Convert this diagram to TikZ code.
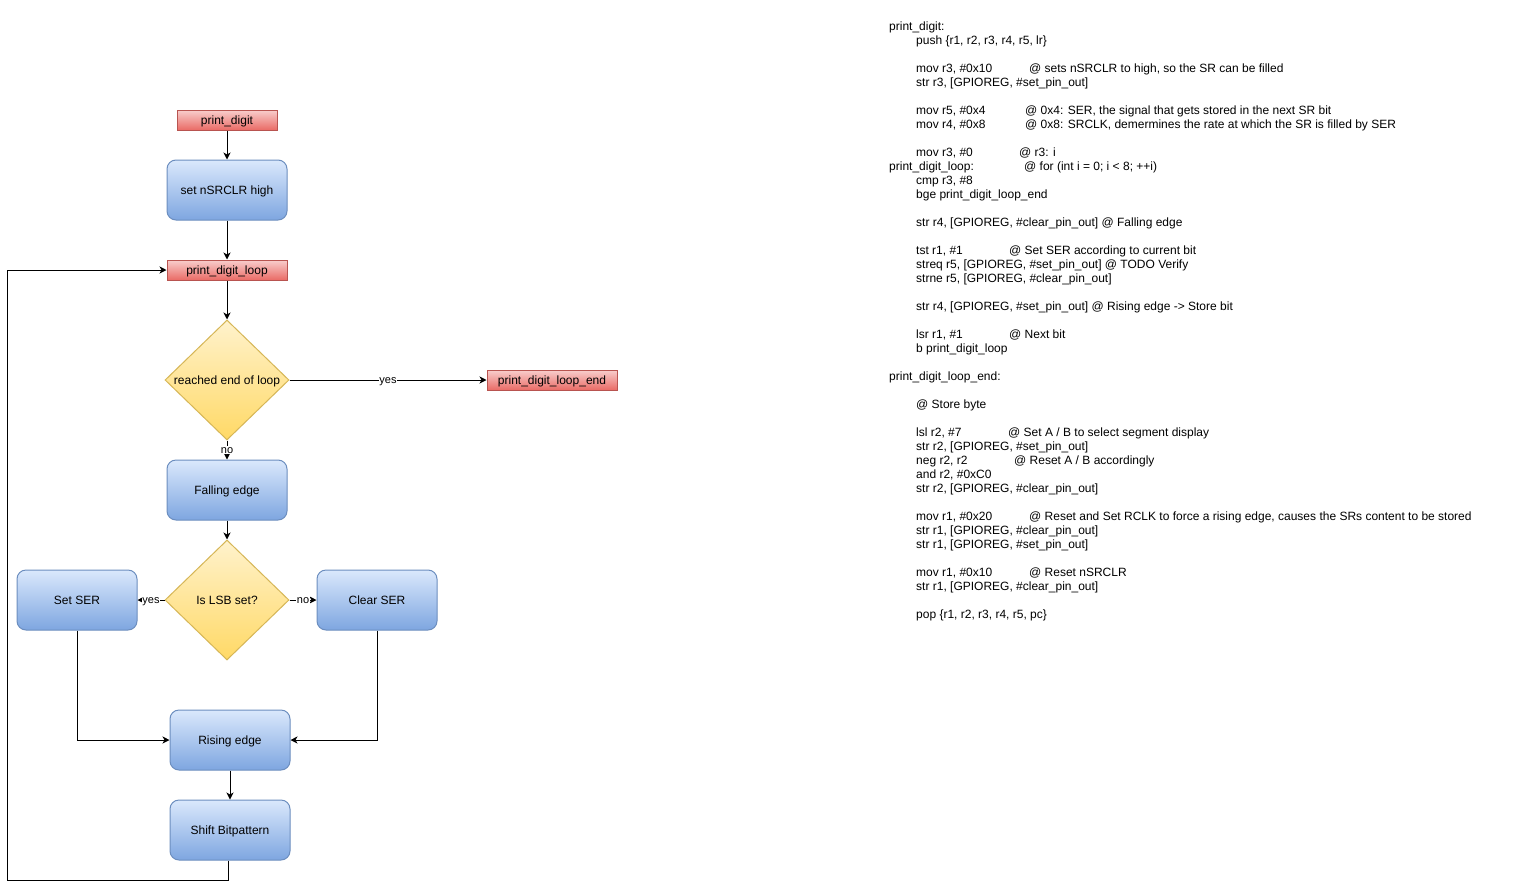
\documentclass[tikz,border=0pt]{standalone}
\usepackage{fontspec}
\setmainfont{Liberation Sans}
\usetikzlibrary{shapes.geometric,arrows.meta}

\definecolor{redTop}{HTML}{F8CECC}
\definecolor{redBot}{HTML}{EA6B66}
\definecolor{redLine}{HTML}{B85450}
\definecolor{blueTop}{HTML}{DAE8FC}
\definecolor{blueBot}{HTML}{7EA6E0}
\definecolor{blueLine}{HTML}{6C8EBF}
\definecolor{yelTop}{HTML}{FFF2CC}
\definecolor{yelBot}{HTML}{FFD966}
\definecolor{yelLine}{HTML}{D6B656}

\tikzset{
  base/.style={draw, line width=1pt, inner sep=0pt, align=center,
    text height=8.6pt, text depth=0pt,
    font=\fontsize{12}{14}\selectfont},
  labelbox/.style={base, draw=redLine, top color=redTop, bottom color=redBot,
    minimum height=20pt},
  stepbox/.style={base, draw=blueLine, top color=blueTop, bottom color=blueBot,
    rounded corners=9pt, minimum width=120pt, minimum height=60pt},
  decision/.style={base, diamond, draw=yelLine, top color=yelTop, bottom color=yelBot,
    minimum width=124pt, minimum height=120pt},
  flow/.style={line width=1pt, -{Stealth[length=7pt,width=7pt,inset=2pt]}},
  edgelabel/.style={fill=white, inner sep=0.5pt, text height=7.9pt, text depth=0pt,
    font=\fontsize{11}{13}\selectfont},
  code/.style={anchor=base west, inner sep=0pt, yshift=-4.3pt,
    font=\fontsize{12}{14}\selectfont},
}

\begin{document}
\begin{tikzpicture}[x=1pt, y=-1pt]
  \useasboundingbox (0,0) rectangle (1528,889);
  \fill[white] (0,0) rectangle (1528,889);

  % flowchart nodes
  \node[labelbox, minimum width=100pt] (start) at (227,120) {print\_digit};
  \node[stepbox] (nsrclr) at (227,190) {set nSRCLR high};
  \node[labelbox, minimum width=120pt] (loop) at (227,270) {print\_digit\_loop};
  \node[decision] (endq) at (227,380) {\makebox[0pt]{reached end of loop}};
  \node[labelbox, minimum width=130pt] (loopend) at (552,380) {print\_digit\_loop\_end};
  \node[stepbox] (fall) at (227,490) {Falling edge};
  \node[decision] (lsbq) at (227,600) {\makebox[0pt]{Is LSB set?}};
  \node[stepbox] (setser) at (77,600) {Set SER};
  \node[stepbox] (clrser) at (377,600) {Clear SER};
  \node[stepbox] (rise) at (230,740) {Rising edge};
  \node[stepbox] (shift) at (230,830) {Shift Bitpattern};
  \coordinate (backcorner) at (7,880);

  % connectors
  \draw[flow] (start) -- (nsrclr);
  \draw[flow] (nsrclr) -- (loop);
  \draw[flow] (loop) -- (endq);
  \draw[flow] (endq.east) -- node[edgelabel] {yes} (loopend.west);
  \draw[flow] (endq.south) -- node[edgelabel] {no} (fall.north);
  \draw[flow] (fall) -- (lsbq);
  \draw[flow] (lsbq.west) -- node[edgelabel] {yes} (setser.east);
  \draw[flow] (lsbq.east) -- node[edgelabel] {no} (clrser.west);
  \draw[flow] (setser.south) |- (rise.west);
  \draw[flow] (clrser.south) |- (rise.east);
  \draw[flow] (rise) -- (shift);
  \draw[flow] ([xshift=-2pt]shift.south) |- (backcorner) |- (loop.west);

  % assembly listing
  \node[code] (c01) at (889,26)  {print\_digit:};
  \node[code] (c02) at (916,40)  {push \{r1, r2, r3, r4, r5, lr\}};
  \node[code] (c03) at (916,68)  {mov r3, \#0x10};
  \node[code] (m03) at (1029,68) {@ sets nSRCLR to high, so the SR can be filled};
  \node[code] (c04) at (916,82)  {str r3, [GPIOREG, \#set\_pin\_out]};
  \node[code] (c05) at (916,110) {mov r5, \#0x4};
  \node[code] (m05) at (1025,110) {@ 0x4: SER, the signal that gets stored in the next SR bit};
  \node[code] (c06) at (916,124) {mov r4, \#0x8};
  \node[code] (m06) at (1025,124) {@ 0x8: SRCLK, demermines the rate at which the SR is filled by SER};
  \node[code] (c07) at (916,152) {mov r3, \#0};
  \node[code] (m07) at (1019,152) {@ r3: i};
  \node[code] (c08) at (889,166) {print\_digit\_loop:};
  \node[code] (m08) at (1024,166) {@ for (int i = 0; i < 8; ++i)};
  \node[code] (c09) at (916,180) {cmp r3, \#8};
  \node[code] (c10) at (916,194) {bge print\_digit\_loop\_end};
  \node[code] (c11) at (916,222) {str r4, [GPIOREG, \#clear\_pin\_out] @ Falling edge};
  \node[code] (c12) at (916,250) {tst r1, \#1};
  \node[code] (m12) at (1009,250) {@ Set SER according to current bit};
  \node[code] (c13) at (916,264) {streq r5, [GPIOREG, \#set\_pin\_out] @ TODO Verify};
  \node[code] (c14) at (916,278) {strne r5, [GPIOREG, \#clear\_pin\_out]};
  \node[code] (c15) at (916,306) {str r4, [GPIOREG, \#set\_pin\_out] @ Rising edge -> Store bit};
  \node[code] (c16) at (916,334) {lsr r1, \#1};
  \node[code] (m16) at (1009,334) {@ Next bit};
  \node[code] (c17) at (916,348) {b print\_digit\_loop};
  \node[code] (c18) at (889,376) {print\_digit\_loop\_end:};
  \node[code] (c19) at (916,404) {@ Store byte};
  \node[code] (c20) at (916,432) {lsl r2, \#7};
  \node[code] (m20) at (1008,432) {@ Set A / B to select segment display};
  \node[code] (c21) at (916,446) {str r2, [GPIOREG, \#set\_pin\_out]};
  \node[code] (c22) at (916,460) {neg r2, r2};
  \node[code] (m22) at (1014,460) {@ Reset A / B accordingly};
  \node[code] (c23) at (916,474) {and r2, \#0xC0};
  \node[code] (c24) at (916,488) {str r2, [GPIOREG, \#clear\_pin\_out]};
  \node[code] (c25) at (916,516) {mov r1, \#0x20};
  \node[code] (m25) at (1029,516) {@ Reset and Set RCLK to force a rising edge, causes the SRs content to be stored};
  \node[code] (c26) at (916,530) {str r1, [GPIOREG, \#clear\_pin\_out]};
  \node[code] (c27) at (916,544) {str r1, [GPIOREG, \#set\_pin\_out]};
  \node[code] (c28) at (916,572) {mov r1, \#0x10};
  \node[code] (m28) at (1029,572) {@ Reset nSRCLR};
  \node[code] (c29) at (916,586) {str r1, [GPIOREG, \#clear\_pin\_out]};
  \node[code] (c30) at (916,614) {pop \{r1, r2, r3, r4, r5, pc\}};
\end{tikzpicture}
\end{document}
